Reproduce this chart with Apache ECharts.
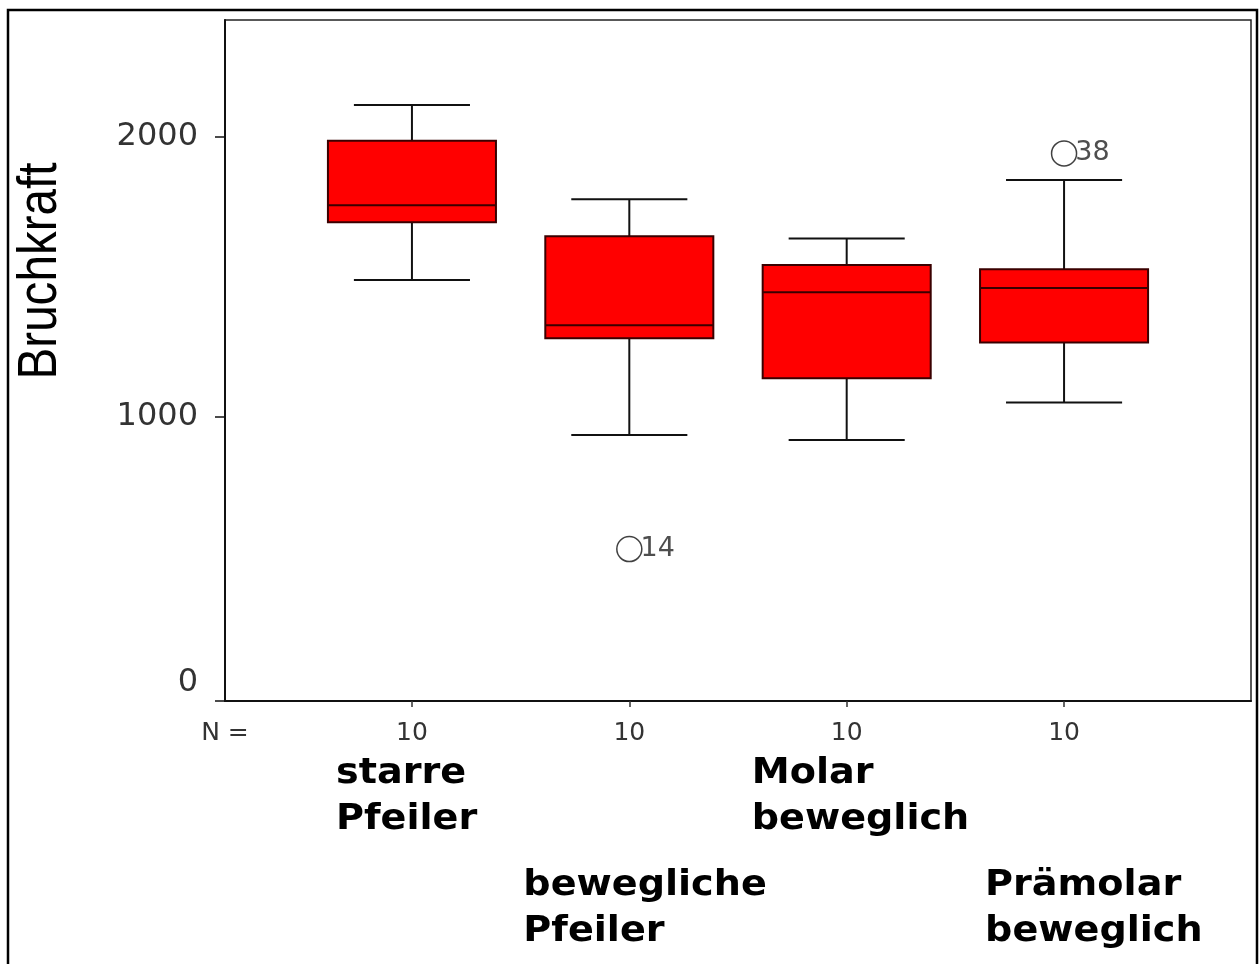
<!DOCTYPE html>
<html>
<head>
<meta charset="utf-8">
<script src="https://cdn.jsdelivr.net/npm/echarts@6/dist/echarts.min.js"></script>
<style>
  html, body { margin: 0; padding: 0; background: #fff; }
  #chart { width: 1259px; height: 964px; }
</style>
</head>
<body>
<div id="chart"></div>
<script>
// group names and sample sizes
const categories = ['starre\nPfeiler', 'bewegliche\nPfeiler', 'Molar\nbeweglich', 'Prämolar\nbeweglich']
const counts = [10, 10, 10, 10]

// box plot statistics (Bruchkraft)
const lowerWhisker = [1488, 935, 917, 1051]
const q1 = [1694, 1280, 1137, 1265]
const median = [1754, 1326, 1444, 1459]
const q3 = [1984, 1644, 1541, 1526]
const upperWhisker = [2112, 1776, 1636, 1844]

// outliers: group index, value, case number
const outlierGroup = [1, 3]
const outlierValue = [528, 1939]
const outlierCase = ['14', '38']

const yTicks = [0, 1000, 2000]

const chart = echarts.init(document.getElementById('chart'))

const boxData = categories.map((c, i) => [i, lowerWhisker[i], q1[i], median[i], q3[i], upperWhisker[i]])
const outlierData = outlierGroup.map((g, i) => [g, outlierValue[i], outlierCase[i]])

const X_MIN = -0.86
const X_MAX = 3.86
const Y_MIN = -14
const Y_MAX = 2415

function renderBox(params, api) {
  const x = api.value(0)
  const lo = api.coord([x, api.value(1)])
  const b1 = api.coord([x, api.value(2)])
  const md = api.coord([x, api.value(3)])
  const b3 = api.coord([x, api.value(4)])
  const hi = api.coord([x, api.value(5)])
  const unit = api.size([1, 0])[0]
  const bw = unit * 0.773
  const cw = unit * 0.534
  const cx = hi[0]
  const whisker = { stroke: '#111', lineWidth: 2 }
  return {
    type: 'group',
    children: [
      { type: 'line', shape: { x1: cx, y1: hi[1], x2: cx, y2: b3[1] }, style: whisker },
      { type: 'line', shape: { x1: cx, y1: b1[1], x2: cx, y2: lo[1] }, style: whisker },
      { type: 'line', shape: { x1: cx - cw / 2, y1: hi[1], x2: cx + cw / 2, y2: hi[1] }, style: whisker },
      { type: 'line', shape: { x1: cx - cw / 2, y1: lo[1], x2: cx + cw / 2, y2: lo[1] }, style: whisker },
      {
        type: 'rect',
        shape: { x: cx - bw / 2, y: b3[1], width: bw, height: b1[1] - b3[1] },
        style: { fill: '#ff0000', stroke: '#3a0000', lineWidth: 2 }
      },
      { type: 'line', shape: { x1: cx - bw / 2, y1: md[1], x2: cx + bw / 2, y2: md[1] }, style: { stroke: '#3a0000', lineWidth: 2 } }
    ]
  }
}

const option = {
  backgroundColor: '#fff',
  animation: false,
  grid: {
    left: 225, right: 8, top: 20, bottom: 263,
    show: true, borderColor: '#222', borderWidth: 1.5, backgroundColor: '#fff'
  },
  xAxis: {
    type: 'value',
    min: X_MIN,
    max: X_MAX,
    splitLine: { show: false },
    axisLine: { show: true, onZero: false, lineStyle: { color: '#111', width: 2 } },
    axisTick: { show: true, length: 6, lineStyle: { color: '#333', width: 1.5 }, customValues: [0, 1, 2, 3] },
    axisLabel: {
      customValues: [X_MIN, 0, 1, 2, 3],
      margin: 20,
      color: '#333',
      fontFamily: 'DejaVu Sans',
      fontSize: 25,
      showMinLabel: true,
      formatter: v => (v < 0 ? 'N =' : String(counts[Math.round(v)]))
    }
  },
  yAxis: {
    type: 'value',
    min: Y_MIN,
    max: Y_MAX,
    splitLine: { show: false },
    axisLine: { show: true, onZero: false, lineStyle: { color: '#111', width: 2 } },
    axisTick: { show: true, length: 10, lineStyle: { color: '#111', width: 1.5 }, customValues: [Y_MIN, 1000, 2000] },
    axisLabel: {
      customValues: yTicks,
      margin: 27,
      color: '#333',
      fontFamily: 'DejaVu Sans',
      fontSize: 32,
      formatter: v => (v === 0 ? '{z|0}' : String(v)),
      rich: { z: { fontFamily: 'DejaVu Sans', fontSize: 32, color: '#333', padding: [0, 0, 28, 0] } }
    }
  },
  series: [
    {
      type: 'custom',
      renderItem: renderBox,
      encode: { x: 0, y: [1, 2, 3, 4, 5] },
      data: boxData,
      z: 3
    },
    {
      type: 'scatter',
      data: outlierData,
      symbol: 'circle',
      symbolSize: 25,
      itemStyle: { color: '#fff', borderColor: '#111', borderWidth: 1.5 },
      label: {
        show: true,
        position: 'right',
        distance: -2,
        color: '#222',
        fontFamily: 'DejaVu Sans',
        fontSize: 27,
        formatter: p => p.value[2]
      },
      z: 4
    }
  ],
  graphic: [
    {
      type: 'rect',
      shape: { x: 8, y: 10, width: 1249, height: 1000 },
      style: { fill: 'none', stroke: '#000', lineWidth: 2.5 },
      silent: true
    },
    {
      type: 'text',
      x: 41,
      y: 271,
      rotation: Math.PI / 2,
      scaleX: 0.85,
      style: {
        text: 'Bruchkraft',
        fill: '#000',
        font: '56px "Liberation Sans", Arial, sans-serif',
        align: 'center',
        verticalAlign: 'middle'
      }
    }
  ]
}

chart.setOption(option)

// group names below the N row, staggered in two rows
const labelShift = [-76, -106, -95, -79]
const labelRow = [0, 1, 0, 1]
const rowTop = [751, 863]
chart.setOption({
  graphic: option.graphic.concat(categories.map((c, i) => {
    const px = chart.convertToPixel({ gridIndex: 0 }, [i, 0])[0]
    return {
      type: 'text',
      x: px + labelShift[i],
      y: rowTop[labelRow[i]],
      scaleX: 1.06,
      style: {
        text: c,
        fill: '#000',
        font: 'bold 36px "DejaVu Sans", sans-serif',
        lineHeight: 46,
        align: 'left',
        verticalAlign: 'top'
      }
    }
  }))
})
</script>
</body>
</html>
